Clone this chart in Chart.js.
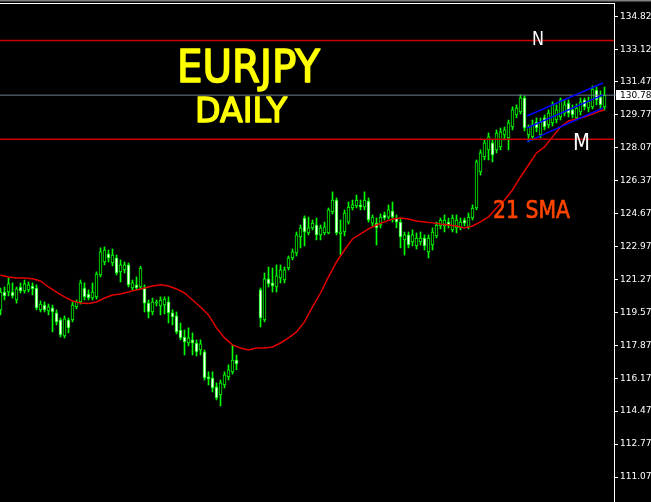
<!DOCTYPE html>
<html>
<head>
<meta charset="utf-8">
<script src="https://cdn.jsdelivr.net/npm/chart.js@4.4.0/dist/chart.umd.min.js"></script>
<style>
  html, body { margin: 0; padding: 0; background: #000; }
  canvas { display: block; background: #000; }
</style>
</head>
<body>
<canvas id="chart" width="651" height="502"></canvas>
<script>
// --- Data (EURJPY daily) ---
const openP = [
  119.70,120.62,120.62,120.62,120.21,120.88,120.68,120.73,120.93,120.83,
  119.70,119.95,119.64,119.80,119.54,119.18,118.35,119.18,119.18,119.85,
  120.11,120.83,120.52,120.31,120.37,121.50,122.17,122.59,122.12,122.38,
  121.66,121.76,122.02,120.83,120.99,120.88,120.83,120.05,119.59,120.05,
  119.90,119.95,120.11,119.54,119.39,118.66,118.30,117.99,118.15,117.99,
  117.63,117.53,116.24,116.18,115.72,115.31,115.82,116.24,116.50,117.11,
  null,null,null,null,null,120.73,119.18,121.30,121.09,120.88,
  121.35,121.24,121.86,122.38,122.64,123.47,124.44,123.67,123.93,124.08,
  123.57,123.67,123.67,124.75,125.37,123.62,123.72,124.23,124.96,125.06,
  125.12,125.01,125.32,124.18,124.18,124.08,124.60,124.49,124.80,124.44,
  124.23,123.31,123.57,123.21,123.00,123.21,123.41,122.69,123.05,123.52,
  124.03,124.03,124.23,123.83,123.93,123.93,124.34,123.98,124.44,124.96,
  126.82,127.60,127.96,128.32,127.96,128.11,128.73,128.58,129.14,129.76,
  129.92,130.64,128.73,128.63,129.40,128.73,129.61,129.25,129.35,129.50,
  129.66,129.86,130.38,130.02,129.61,129.92,130.54,130.12,130.18,131.05,
  130.69,130.18
];
const highP = [
  120.83,120.88,121.35,121.09,120.88,121.09,121.24,121.14,121.09,120.99,
  120.16,120.11,120.00,119.95,119.70,119.28,119.39,119.28,120.11,120.21,
  121.24,121.09,120.73,121.09,121.66,122.90,122.95,122.79,122.84,122.53,
  122.28,122.17,122.12,121.24,121.40,121.95,120.99,120.21,120.31,120.21,
  120.37,120.37,120.37,119.70,119.59,119.02,118.66,118.77,118.51,118.15,
  118.15,117.63,116.50,116.50,115.93,116.08,116.50,116.86,117.89,117.37,
  null,null,null,null,null,120.83,121.60,121.91,121.86,122.02,
  122.02,121.91,122.48,122.84,123.72,124.08,124.55,124.49,124.34,124.44,
  124.08,124.23,124.96,125.79,125.48,124.34,124.86,125.27,125.37,125.63,
  125.37,125.79,125.48,124.60,124.44,124.65,124.75,125.12,125.27,124.60,
  124.44,123.72,123.72,123.83,123.67,123.72,123.57,123.57,123.93,124.23,
  124.44,124.60,124.44,124.60,124.60,124.44,124.44,124.70,125.12,127.44,
  127.96,128.47,128.83,128.47,128.99,129.09,129.14,129.50,130.18,130.28,
  130.80,130.74,129.25,129.50,129.61,129.61,129.76,130.02,130.44,130.28,
  130.64,130.54,130.54,130.28,130.33,130.64,130.64,130.69,131.26,131.20,
  131.00,131.20
];
const lowP = [
  119.44,120.21,120.42,120.31,120.05,120.57,120.57,120.62,120.47,119.70,
  119.59,119.59,119.44,118.56,118.92,118.30,118.25,118.51,119.08,119.75,
  120.00,120.21,120.21,120.21,120.26,121.40,122.02,122.17,121.97,121.50,
  121.14,121.60,120.88,120.73,120.73,120.78,119.59,119.28,119.44,119.90,
  119.44,119.49,119.02,118.92,118.46,118.15,117.37,117.84,117.37,117.32,
  117.37,116.08,115.82,115.46,115.05,114.74,115.67,116.08,116.39,116.60,
  null,null,null,null,null,118.82,119.08,120.88,120.62,120.62,
  121.09,121.09,121.76,122.28,122.48,122.90,123.00,123.57,123.83,123.31,
  123.31,123.57,123.62,124.65,123.57,122.53,123.52,124.13,124.86,124.96,
  124.86,124.86,124.23,124.03,123.05,123.93,124.34,124.39,124.23,123.93,
  122.90,122.53,122.90,123.00,122.84,123.05,122.79,122.38,122.79,123.41,
  123.88,123.72,123.93,123.72,123.67,123.83,124.03,123.88,124.34,124.86,
  126.66,127.44,127.44,127.34,127.80,127.96,128.47,127.96,128.99,129.61,
  129.81,128.94,128.37,128.47,128.89,128.58,128.99,129.09,129.19,129.35,
  129.50,129.71,129.66,129.61,129.50,129.76,130.02,129.92,130.07,130.28,
  130.07,130.02
];
const closeP = [
  120.62,120.42,121.04,120.42,120.78,120.68,121.04,120.99,120.78,119.80,
  120.00,119.70,119.85,119.59,119.08,118.40,119.23,118.77,119.95,120.11,
  121.09,120.37,120.31,120.62,121.55,122.69,122.79,122.38,122.53,121.60,
  122.02,122.02,120.99,121.09,120.83,121.86,120.05,119.59,120.11,120.11,
  120.21,120.26,119.54,119.33,118.56,118.25,118.04,118.25,117.99,117.53,
  117.94,116.18,116.13,115.67,115.15,115.93,116.34,116.60,117.11,116.91,
  null,null,null,null,null,119.28,121.30,121.04,120.93,121.45,
  121.76,121.76,122.38,122.69,123.57,123.93,123.72,123.93,124.18,123.57,
  123.93,123.98,124.86,125.37,123.67,123.72,124.70,125.01,125.12,125.37,
  125.01,125.37,124.34,124.49,123.93,124.49,124.44,124.86,124.49,124.23,
  123.47,123.57,123.05,123.57,123.41,123.41,123.00,123.41,123.72,124.08,
  124.34,124.34,124.08,124.44,124.34,124.23,124.18,124.49,124.96,127.34,
  127.80,128.32,128.63,127.70,128.83,128.89,128.99,129.35,130.02,130.12,
  130.64,129.09,129.14,129.25,129.09,129.40,129.14,129.86,130.28,130.02,
  130.54,130.28,129.86,129.76,130.12,130.44,130.18,130.44,131.10,130.54,
  130.28,130.78
];

// 21 SMA, read at every second bar
const smaIdx = [
  0,2,4,6,8,10,12,14,16,18,20,22,24,26,28,30,32,34,36,38,
  40,42,44,46,48,50,52,54,56,58,60,62,64,66,68,70,72,74,76,78,
  80,82,84,86,88,90,92,94,96,98,100,102,104,106,108,110,112,114,116,118,
  120,122,124,126,128,130,132,134,136,138,140,142,144,146,148,150,151
];
const smaVal = [
  121.50,121.40,121.35,121.35,121.30,121.19,120.88,120.62,120.37,120.16,
  120.05,120.03,120.11,120.31,120.47,120.52,120.62,120.73,120.83,120.93,
  120.99,120.93,120.78,120.57,120.21,119.85,119.44,118.77,118.25,117.89,
  117.73,117.63,117.73,117.73,117.78,117.99,118.25,118.56,119.08,119.85,
  120.57,121.40,122.17,122.79,123.36,123.62,123.88,124.08,124.24,124.39,
  124.44,124.39,124.29,124.24,124.19,124.13,124.08,124.03,123.93,124.03,
  124.24,124.50,124.96,125.37,125.89,126.56,127.18,127.80,128.11,128.63,
  129.14,129.45,129.56,129.66,129.81,129.97,130.02
];

// channel (start bar, end bar) and price levels
const channelBars = [131.6, 150.6];
const channelUpper = [129.71, 131.41];
const channelMiddle = [129.09, 130.80];
const channelLower = [128.37, 130.12];

const resistN = 133.60;
const supportM = 128.51;
const lastPrice = 130.784;

const tickValues = [134.82,133.12,131.47,129.77,128.07,126.37,124.67,122.97,121.27,119.57,117.87,116.17,114.47,112.77,111.07];

// view
const xMin = -0.125, xMax = 153.375;
const yMin = 109.78, yMax = 135.49;

// --- build datasets ---
const GREEN = '#00ff00';
const wickData = [], bodyData = [], bodyFill = [];
closeP.forEach((c, i) => {
  if (c === null) return;
  const o = openP[i];
  wickData.push({x: i, y: [lowP[i], highP[i]]});
  bodyData.push({x: i, y: [Math.min(o, c), Math.max(o, c)]});
  bodyFill.push(c >= o ? '#000000' : '#ffffff');
});

const hline = (v) => [{x: xMin, y: v}, {x: xMax, y: v}];
const seg = (ys) => channelBars.map((b, k) => ({x: b, y: ys[k]}));

// --- text / frame plugin ---
// draws text squeezed to a target width; "thick" adds a thin outline of the same colour
function fitText(ctx, text, left, baseline, width, size, color, thick){
  ctx.save();
  ctx.font = size + 'px "DejaVu Sans"';
  const w = ctx.measureText(text).width;
  ctx.translate(left, baseline);
  ctx.scale(width / w, 1);
  ctx.fillStyle = color;
  ctx.textBaseline = 'alphabetic';
  ctx.fillText(text, 0, 0);
  if (thick) {
    ctx.strokeStyle = color;
    ctx.lineWidth = thick;
    ctx.lineJoin = 'round';
    ctx.strokeText(text, 0, 0);
  }
  ctx.restore();
}

const decor = {
  id: 'decor',
  afterDraw(chart){
    const ctx = chart.ctx, a = chart.chartArea;
    ctx.save();
    // frame
    ctx.fillStyle = '#808080'; ctx.fillRect(0, 0, 651, 1.5);
    ctx.fillStyle = '#ffffff'; ctx.fillRect(0, a.top - 1, a.right + 1, 1);
    // labels
    fitText(ctx, 'EURJPY', 177, 82, 143, 44, '#ffff00', 1.6);
    fitText(ctx, 'DAILY', 195, 122, 92, 34, '#ffff00', 1.4);
    fitText(ctx, 'N', 532, 45, 12, 20, '#ffffff');
    fitText(ctx, 'M', 573, 150, 17, 23, '#ffffff');
    fitText(ctx, '21 SMA', 493, 218, 77, 25, '#ff4500', 0.7);
    // current price box
    const y = Math.round(chart.scales.y.getPixelForValue(lastPrice));
    ctx.fillStyle = '#708090'; ctx.fillRect(a.right, y - 0.5, 3, 1);
    ctx.fillStyle = '#ffffff'; ctx.fillRect(a.right + 2, y - 5, 40, 10);
    ctx.fillStyle = '#000000';
    ctx.font = '9px "DejaVu Sans"';
    ctx.textBaseline = 'middle';
    ctx.fillText(lastPrice.toFixed(3), a.right + 6, y + 0.5);
    ctx.restore();
  }
};

new Chart(document.getElementById('chart'), {
  type: 'bar',
  data: {
    datasets: [
      {type: 'line', data: hline(resistN), borderColor: '#c80000', borderWidth: 1.5, pointRadius: 0, order: 0},
      {type: 'line', data: hline(supportM), borderColor: '#c80000', borderWidth: 1.5, pointRadius: 0, order: 0},
      {type: 'line', data: seg(channelUpper), borderColor: '#0000ff', borderWidth: 1.5, pointRadius: 0, order: 0},
      {type: 'line', data: seg(channelMiddle), borderColor: '#0000ff', borderWidth: 1.5, pointRadius: 0, order: 0},
      {type: 'line', data: seg(channelLower), borderColor: '#0000ff', borderWidth: 1.5, pointRadius: 0, order: 0},
      {type: 'line', data: smaIdx.map((x, k) => ({x, y: smaVal[k]})), borderColor: '#e00000', borderWidth: 1.5, pointRadius: 0, tension: 0, order: 0},
      {type: 'line', data: hline(lastPrice), borderColor: '#708090', borderWidth: 1, pointRadius: 0, order: 1},
      {data: bodyData, backgroundColor: bodyFill, borderColor: GREEN, borderWidth: 1, borderSkipped: false, barThickness: 3, grouped: false, order: 2},
      {data: wickData, backgroundColor: GREEN, borderWidth: 0, barThickness: 1, grouped: false, order: 3}
    ]
  },
  options: {
    responsive: false,
    animation: false,
    layout: {padding: {top: 4, left: 0, right: 0, bottom: 0}},
    plugins: {legend: {display: false}, tooltip: {enabled: false}},
    scales: {
      x: {type: 'linear', min: xMin, max: xMax, offset: false, display: false},
      y: {
        position: 'right', min: yMin, max: yMax,
        afterFit(s){ s.width = 37; s.paddingTop = 0; s.paddingBottom = 0; },
        afterBuildTicks(s){ s.ticks = tickValues.map(v => ({value: v})); },
        ticks: {color: '#ffffff', padding: 2, font: {family: 'DejaVu Sans', size: 9}, callback: v => v.toFixed(3)},
        grid: {drawOnChartArea: false, color: '#ffffff', tickLength: 4},
        border: {color: '#ffffff', width: 1}
      }
    }
  },
  plugins: [decor]
});
</script>
</body>
</html>
